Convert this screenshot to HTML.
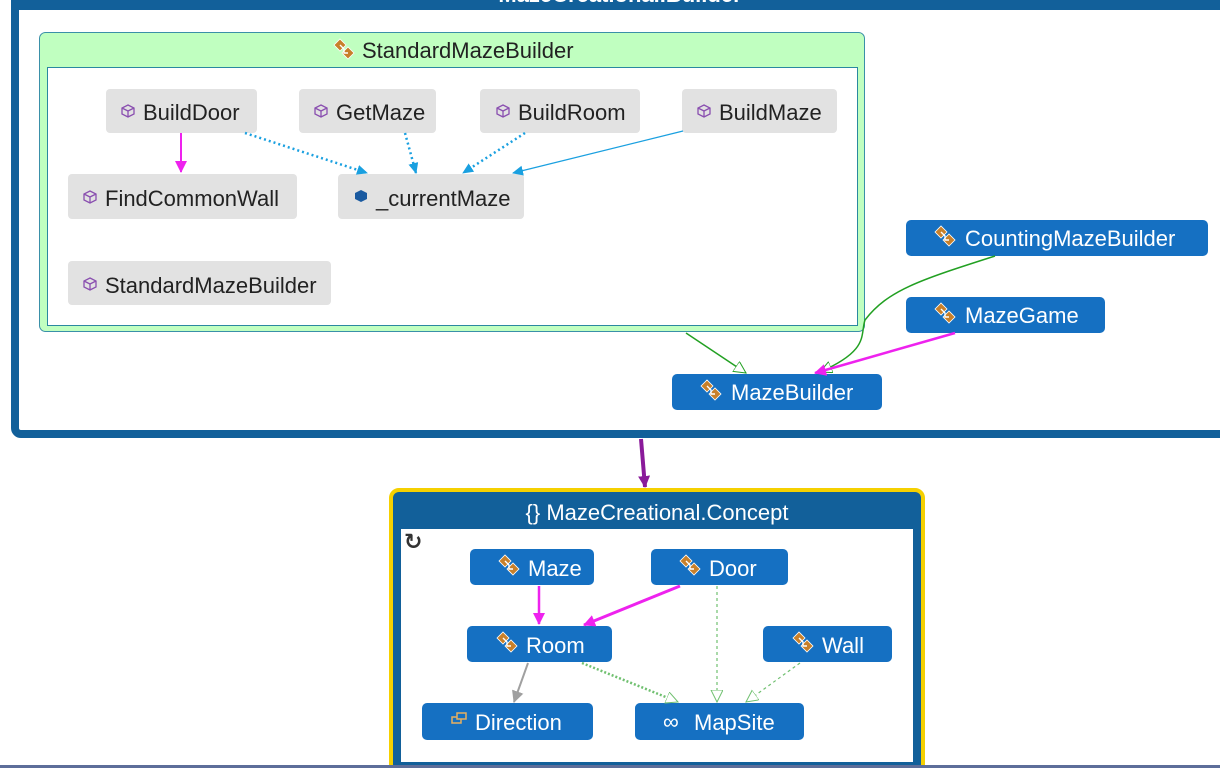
<!DOCTYPE html>
<html><head><meta charset="utf-8"><style>
html,body{margin:0;padding:0;background:#fff;width:1220px;height:768px;overflow:hidden}
svg{display:block}
text{font-family:"Liberation Sans","DejaVu Sans",sans-serif;font-size:22px}
</style></head><body>
<svg width="1220" height="768" viewBox="0 0 1220 768" xmlns="http://www.w3.org/2000/svg">
<defs>
<g id="ci">
<path d="M0 6 L6 0 L12 6 L6 12 Z" fill="#c8802a" stroke="#fff" stroke-width="0.8"/>
<path d="M8 14 L14 8 L20 14 L14 20 Z" fill="#c8802a" stroke="#fff" stroke-width="0.8"/>
<path d="M6 6 L10 10 L10 14 L14 14" fill="none" stroke="#fff" stroke-width="1.4"/>
</g>
<g id="mi">
<path d="M6 0 L12 3 L12 9 L6 12 L0 9 L0 3 Z M0 3 L6 6 L12 3 M6 6 L6 12" fill="none" stroke="#8a4fb0" stroke-width="1.3"/>
</g>
<marker id="ab" markerWidth="12" markerHeight="12" refX="10" refY="5" orient="auto" markerUnits="userSpaceOnUse"><path d="M0 0 L11 5 L0 10 Z" fill="#1aa0e0"/></marker>
<marker id="am" markerWidth="14" markerHeight="14" refX="11" refY="6" orient="auto" markerUnits="userSpaceOnUse"><path d="M0 0 L12 6 L0 12 Z" fill="#ee22ee"/></marker>
<marker id="ag" markerWidth="14" markerHeight="14" refX="12" refY="6" orient="auto" markerUnits="userSpaceOnUse"><path d="M0 0 L12 6 L0 12 Z" fill="#fff" stroke="#22a022" stroke-width="1"/></marker>
<marker id="agl" markerWidth="14" markerHeight="14" refX="12" refY="6" orient="auto" markerUnits="userSpaceOnUse"><path d="M0 0 L12 6 L0 12 Z" fill="#fff" stroke="#70c070" stroke-width="1"/></marker>
<marker id="ay" markerWidth="14" markerHeight="14" refX="11" refY="6" orient="auto" markerUnits="userSpaceOnUse"><path d="M0 0 L12 6 L0 12 Z" fill="#a0a0a0"/></marker>
<marker id="ap" markerWidth="14" markerHeight="14" refX="11" refY="6" orient="auto" markerUnits="userSpaceOnUse"><path d="M0 0 L12 6 L0 12 Z" fill="#8a1a9a"/></marker>
</defs>

<rect x="15" y="-20" width="1230" height="454" rx="6" fill="#fff" stroke="#12609a" stroke-width="8"/>
<rect x="15" y="-20" width="1230" height="30" fill="#12609a"/>
<text x="620" y="2" fill="#fff" text-anchor="middle" font-weight="bold">MazeCreational.Builder</text>

<rect x="39.5" y="32.5" width="825" height="299" rx="6" fill="#c0ffc0" stroke="#3a90a8"/>
<use href="#ci" x="334" y="39"/>
<text x="362" y="58" fill="#222">StandardMazeBuilder</text>
<rect x="47.5" y="67.5" width="810" height="258" fill="#fff" stroke="#2a88a0"/>

<g fill="#e2e2e2">
<rect x="106" y="89" width="151" height="44" rx="4"/>
<rect x="299" y="89" width="137" height="44" rx="4"/>
<rect x="480" y="89" width="160" height="44" rx="4"/>
<rect x="682" y="89" width="155" height="44" rx="4"/>
<rect x="68" y="174" width="229" height="45" rx="4"/>
<rect x="338" y="174" width="186" height="45" rx="4"/>
<rect x="68" y="261" width="263" height="44" rx="4"/>
</g>
<use href="#mi" x="122" y="105"/><text x="143" y="120" fill="#222">BuildDoor</text>
<use href="#mi" x="315" y="105"/><text x="336" y="120" fill="#222">GetMaze</text>
<use href="#mi" x="497" y="105"/><text x="518" y="120" fill="#222">BuildRoom</text>
<use href="#mi" x="698" y="105"/><text x="719" y="120" fill="#222">BuildMaze</text>
<use href="#mi" x="84" y="191"/><text x="105" y="206" fill="#222">FindCommonWall</text>
<path d="M355 193 L361 190 L367 193 L367 199 L361 202 L355 199 Z" fill="#1a5aa0"/>
<text x="376" y="206" fill="#222">_currentMaze</text>
<use href="#mi" x="84" y="278"/><text x="105" y="293" fill="#222">StandardMazeBuilder</text>

<line x1="181" y1="133" x2="181" y2="172" stroke="#ee22ee" stroke-width="2" marker-end="url(#am)"/>
<g stroke="#1aa0e0" stroke-width="2.5" stroke-dasharray="2 3" fill="none">
<line x1="245" y1="133" x2="367" y2="173" marker-end="url(#ab)"/>
<line x1="405" y1="133" x2="416" y2="173" marker-end="url(#ab)"/>
<line x1="525" y1="133" x2="463" y2="173" marker-end="url(#ab)"/>
</g>
<line x1="683" y1="131" x2="513" y2="173" stroke="#1aa0e0" stroke-width="1.3" marker-end="url(#ab)"/>

<g fill="#1570c2">
<rect x="906" y="220" width="302" height="36" rx="5"/>
<rect x="906" y="297" width="199" height="36" rx="5"/>
<rect x="672" y="374" width="210" height="36" rx="5"/>
</g>
<use href="#ci" x="935" y="226"/><text x="965" y="246" fill="#fff">CountingMazeBuilder</text>
<use href="#ci" x="935" y="303"/><text x="965" y="323" fill="#fff">MazeGame</text>
<use href="#ci" x="701" y="380"/><text x="731" y="400" fill="#fff">MazeBuilder</text>

<line x1="686" y1="333" x2="746" y2="373" stroke="#22a022" stroke-width="1.5" marker-end="url(#ag)"/>
<path d="M995 256 C920 280 888 290 865 320 C860 335 870 350 820 372" fill="none" stroke="#22a022" stroke-width="1.5" marker-end="url(#ag)"/>
<line x1="955" y1="333" x2="815" y2="373" stroke="#ee22ee" stroke-width="2.5" marker-end="url(#am)"/>

<line x1="641" y1="439" x2="645" y2="487" stroke="#8a1a9a" stroke-width="4" marker-end="url(#ap)"/>

<rect x="391" y="490" width="532" height="290" rx="8" fill="#12609a" stroke="#f5d000" stroke-width="4"/>
<text x="657" y="520" fill="#fff" text-anchor="middle">{} MazeCreational.Concept</text>
<rect x="401" y="529" width="512" height="233" fill="#fff"/>
<text x="404" y="549" fill="#333" font-size="18" font-weight="bold">↻</text>

<g fill="#1570c2">
<rect x="470" y="549" width="124" height="36" rx="5"/>
<rect x="651" y="549" width="137" height="36" rx="5"/>
<rect x="467" y="626" width="145" height="36" rx="5"/>
<rect x="763" y="626" width="129" height="36" rx="5"/>
<rect x="422" y="703" width="171" height="37" rx="5"/>
<rect x="635" y="703" width="169" height="37" rx="5"/>
</g>
<use href="#ci" x="499" y="555"/><text x="528" y="576" fill="#fff">Maze</text>
<use href="#ci" x="680" y="555"/><text x="709" y="576" fill="#fff">Door</text>
<use href="#ci" x="497" y="632"/><text x="526" y="653" fill="#fff">Room</text>
<use href="#ci" x="793" y="632"/><text x="822" y="653" fill="#fff">Wall</text>
<rect x="452" y="717" width="9" height="6" fill="none" stroke="#e8b060" stroke-width="1.5"/>
<rect x="457" y="713" width="9" height="6" fill="#1570c2" stroke="#e8b060" stroke-width="1.5"/>
<text x="475" y="730" fill="#fff">Direction</text>
<text x="663" y="729" fill="#fff" font-size="18">∞</text>
<text x="694" y="730" fill="#fff">MapSite</text>

<line x1="539" y1="586" x2="539" y2="624" stroke="#ee22ee" stroke-width="2.5" marker-end="url(#am)"/>
<line x1="680" y1="586" x2="584" y2="625" stroke="#ee22ee" stroke-width="3" marker-end="url(#am)"/>
<line x1="528" y1="663" x2="514" y2="702" stroke="#a0a0a0" stroke-width="2" marker-end="url(#ay)"/>
<g stroke="#70c070" fill="none">
<line x1="717" y1="586" x2="717" y2="702" stroke-width="1.2" stroke-dasharray="3 3" marker-end="url(#agl)"/>
<line x1="800" y1="663" x2="746" y2="702" stroke-width="1.2" stroke-dasharray="3 3" marker-end="url(#agl)"/>
<line x1="582" y1="663" x2="678" y2="702" stroke-width="2.5" stroke-dasharray="2 2" marker-end="url(#agl)"/>
</g>

<rect x="0" y="765" width="1220" height="3" fill="#5d6e9a"/>
</svg>
</body></html>
